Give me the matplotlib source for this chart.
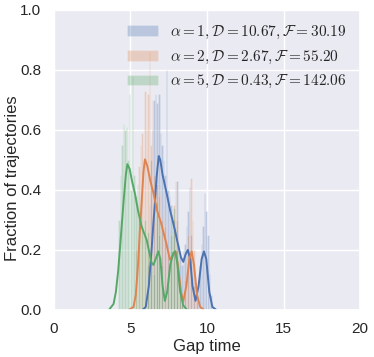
import numpy as np
import matplotlib
matplotlib.use("Agg")
import matplotlib.pyplot as plt
import seaborn as sns

# histogram bars: left edge of the first bin, bin width 0.1
bin_width = 0.1
hist_start = [6.1, 5.3, 4.2]
hist_heights = [
    # alpha = 1 (blue)
    [0.15, 0.35, 0.50, 0.60, 0.70, 0.72, 0.69, 0.72, 0.59, 0.55, 0.50, 0.45,
     0.80, 0.40, 0.38, 0.35, 0.32, 0.30, 0.25, 0.43, 0.22, 0.18, 0.15, 0.20,
     0.22, 0.28, 0.33, 0.41, 0.25, 0.15, 0.08, 0.03, 0.05, 0.08, 0.15, 0.22,
     0.28, 0.39, 0.33, 0.25, 0.12, 0.05],
    # alpha = 2 (orange)
    [0.20, 0.35, 0.48, 0.55, 0.59, 0.50, 0.73, 0.60, 0.72, 0.86, 0.55, 0.70,
     0.45, 0.50, 0.42, 0.38, 0.40, 0.30, 0.33, 0.28, 0.25, 0.20, 0.15, 0.18,
     0.25, 0.35, 0.43, 0.30, 0.15, 0.05, 0.02, 0.05, 0.10, 0.18, 0.25, 0.32,
     0.44, 0.30, 0.20, 0.08, 0.03],
    # alpha = 5 (green)
    [0.30, 0.45, 0.55, 0.62, 0.60, 0.61, 0.50, 0.72, 0.40, 0.78, 0.45, 0.38,
     0.42, 0.30, 0.35, 0.28, 0.25, 0.30, 0.22, 0.26, 0.20, 0.18, 0.15, 0.12,
     0.20, 0.36, 0.25, 0.30, 0.15, 0.05, 0.00, 0.05, 0.10, 0.18, 0.25, 0.30,
     0.34, 0.28, 0.20, 0.10, 0.05, 0.02],
]

# kde curves
kde_x = [
    [5.8, 6.0, 6.2, 6.38, 6.5, 6.6, 6.7, 6.85, 6.95, 7.1, 7.36, 7.6, 7.9, 8.1,
     8.3, 8.45, 8.6, 8.75, 8.9, 9.05, 9.25, 9.45, 9.65, 9.8, 9.95, 10.15,
     10.35, 10.6],
    [4.9, 5.2, 5.35, 5.5, 5.6, 5.73, 5.85, 5.95, 6.1, 6.3, 6.5, 6.75, 7.0,
     7.15, 7.35, 7.58, 7.75, 7.95, 8.1, 8.3, 8.45, 8.65, 8.85, 9.0, 9.15,
     9.35, 9.55, 9.8],
    [3.6, 3.9, 4.05, 4.2, 4.4, 4.55, 4.7, 4.8, 4.95, 5.1, 5.29, 5.5, 5.73,
     6.06, 6.38, 6.5, 6.65, 6.82, 6.95, 7.1, 7.25, 7.4, 7.6, 7.8, 7.92, 8.05,
     8.25, 8.45, 8.7],
]
kde_y = [
    [0.0, 0.01, 0.08, 0.20, 0.29, 0.356, 0.44, 0.513, 0.50, 0.45, 0.39, 0.33,
     0.267, 0.22, 0.175, 0.16, 0.185, 0.20, 0.17, 0.08, 0.03, 0.08, 0.17,
     0.195, 0.17, 0.06, 0.01, 0.0],
    [0.0, 0.01, 0.05, 0.155, 0.25, 0.356, 0.46, 0.502, 0.48, 0.43, 0.39,
     0.33, 0.29, 0.26, 0.22, 0.167, 0.18, 0.195, 0.15, 0.06, 0.028, 0.08,
     0.17, 0.195, 0.15, 0.05, 0.01, 0.0],
    [0.0, 0.02, 0.06, 0.13, 0.26, 0.36, 0.45, 0.486, 0.47, 0.43, 0.389, 0.33,
     0.278, 0.233, 0.156, 0.15, 0.17, 0.195, 0.17, 0.08, 0.03, 0.06, 0.15,
     0.19, 0.195, 0.16, 0.06, 0.015, 0.0],
]

labels = [
    r"$\alpha=1, \mathcal{D}=10.67, \mathcal{F}=30.19$",
    r"$\alpha=2, \mathcal{D}=2.67, \mathcal{F}=55.20$",
    r"$\alpha=5, \mathcal{D}=0.43, \mathcal{F}=142.06$",
]

sns.set_theme(style="darkgrid")
plt.rcParams["font.family"] = ["Liberation Sans", "DejaVu Sans"]
plt.rcParams["mathtext.fontset"] = "cm"
colors = sns.color_palette("deep")

fig = plt.figure(figsize=(3.74, 3.57), dpi=100)
ax = fig.add_axes([0.144, 0.132, 0.819, 0.840])

for i in range(3):
    h = np.array(hist_heights[i])
    lefts = hist_start[i] + bin_width * np.arange(len(h))
    ax.bar(lefts, h, width=bin_width, align="edge", color=colors[i],
           alpha=0.3, linewidth=0.4, edgecolor="white", label=labels[i])
    ax.plot(kde_x[i], kde_y[i], color=colors[i], lw=1.4)

ax.set_xlim(0, 20)
ax.set_ylim(0, 1.0)
ax.set_xticks([0, 5, 10, 15, 20])
ax.set_yticks([0.0, 0.2, 0.4, 0.6, 0.8, 1.0])
ax.set_xlabel("Gap time", fontsize=12, labelpad=2)
ax.set_ylabel("Fraction of trajectories", fontsize=12)
ax.yaxis.set_label_coords(-0.11, 0.44)
ax.tick_params(labelsize=11, pad=3)

ax.legend(loc="upper right", frameon=False, fontsize=11)

fig.savefig("out.png", dpi=100)
